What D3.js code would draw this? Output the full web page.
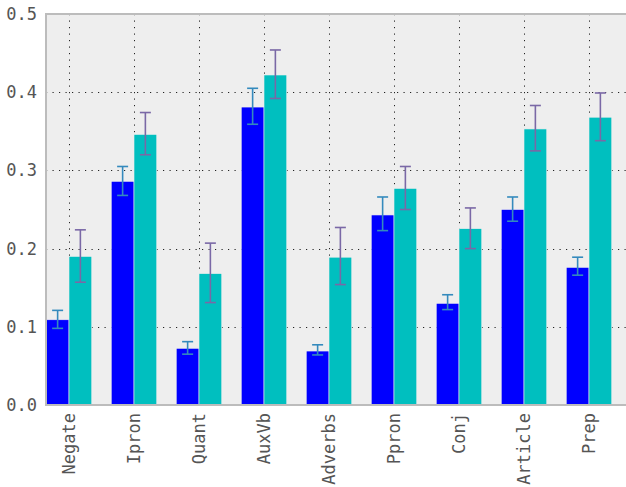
<!DOCTYPE html>
<html>
<head>
<meta charset="utf-8">
<script src="https://cdn.jsdelivr.net/npm/d3@7/dist/d3.min.js"></script>
<style>
  html, body { margin: 0; padding: 0; background: #ffffff; }
  svg { display: block; }
  text { font-family: "DejaVu Sans Mono", monospace; }
</style>
</head>
<body>
<svg id="chart" width="626" height="487"></svg>
<script>
// Word-category frequencies, two groups, with error ranges
const categories = ["Negate", "Ipron", "Quant", "AuxVb", "Adverbs", "Ppron", "Conj", "Article", "Prep"];
const groupA      = [0.109, 0.286, 0.0725, 0.381, 0.069, 0.243, 0.130, 0.250, 0.176];
const groupALow   = [0.098, 0.268, 0.065, 0.359, 0.064, 0.223, 0.122, 0.235, 0.166];
const groupAHigh  = [0.121, 0.305, 0.081, 0.405, 0.077, 0.266, 0.141, 0.266, 0.189];
const groupB      = [0.190, 0.346, 0.168, 0.422, 0.189, 0.277, 0.2255, 0.353, 0.368];
const groupBLow   = [0.157, 0.320, 0.131, 0.392, 0.154, 0.250, 0.200, 0.325, 0.338];
const groupBHigh  = [0.224, 0.374, 0.207, 0.454, 0.227, 0.305, 0.252, 0.383, 0.399];
const yTicks      = [0.0, 0.1, 0.2, 0.3, 0.4, 0.5];

const svg = d3.select("#chart");
const W = 626, H = 487;

const x = d3.scaleLinear().domain([0, categories.length - 1]).range([69, 589]);
const y = d3.scaleLinear().domain([0, 0.5]).range([405, 14]);
const barW = x(0.35) - x(0);

const plotL = x(-23 / 65), plotR = W, plotT = y(0.5), plotB = y(0);

// plot background
svg.append("rect")
  .attr("x", plotL).attr("y", plotT)
  .attr("width", plotR - plotL).attr("height", plotB - plotT)
  .attr("fill", "#eeeeee");

// grid
const grid = svg.append("g")
  .attr("stroke", "#222").attr("stroke-width", 1)
  .attr("stroke-dasharray", "1.2,5.3");
grid.selectAll("line.h").data(yTicks.slice(1, -1)).join("line")
  .attr("class", "h")
  .attr("x1", plotL).attr("x2", plotR)
  .attr("y1", d => Math.round(y(d)) + 0.5).attr("y2", d => Math.round(y(d)) + 0.5);
grid.selectAll("line.v").data(categories).join("line")
  .attr("class", "v")
  .attr("x1", (d, i) => Math.round(x(i)) + 0.5).attr("x2", (d, i) => Math.round(x(i)) + 0.5)
  .attr("y1", plotT).attr("y2", plotB);

// bars
const series = [
  { vals: groupA, lo: groupALow, hi: groupAHigh, color: "#0000ff", err: "#348abd", off: -barW },
  { vals: groupB, lo: groupBLow, hi: groupBHigh, color: "#00bfbf", err: "#7a68a6", off: 0 }
];

series.forEach(s => {
  svg.append("g").selectAll("rect").data(s.vals).join("rect")
    .attr("x", (d, i) => x(i) + s.off)
    .attr("y", d => y(d))
    .attr("width", barW)
    .attr("height", d => y(0) - y(d))
    .attr("fill", s.color)
    .attr("stroke", "#eeeeee").attr("stroke-width", 0.6);
});

// error bars
series.forEach(s => {
  const g = svg.append("g").attr("stroke", s.err).attr("stroke-width", 1.6).attr("fill", "none");
  s.vals.forEach((v, i) => {
    const cx = x(i) + s.off + barW / 2;
    const y1 = y(s.lo[i]), y2 = y(s.hi[i]);
    g.append("line").attr("x1", cx).attr("x2", cx).attr("y1", y1).attr("y2", y2);
    g.append("line").attr("x1", cx - 5.5).attr("x2", cx + 5.5).attr("y1", y1).attr("y2", y1);
    g.append("line").attr("x1", cx - 5.5).attr("x2", cx + 5.5).attr("y1", y2).attr("y2", y2);
  });
});

// frame
const frame = svg.append("g").attr("stroke", "#bcbcbc").attr("stroke-width", 2);
frame.append("line").attr("x1", plotL).attr("x2", plotR).attr("y1", plotT).attr("y2", plotT);
frame.append("line").attr("x1", plotL).attr("x2", plotR).attr("y1", plotB).attr("y2", plotB);
frame.append("line").attr("x1", plotL).attr("x2", plotL).attr("y1", plotT - 1).attr("y2", plotB + 1);

// y axis labels
const yAxis = d3.axisLeft(y).tickValues(yTicks).tickFormat(d3.format(".1f")).tickSize(0).tickPadding(8);
const ya = svg.append("g").attr("transform", `translate(${plotL - 1},0)`).call(yAxis);
ya.select(".domain").remove();
ya.selectAll("text").attr("font-size", 17).attr("fill", "#555555")
  .attr("font-family", "DejaVu Sans Mono");

// x axis labels
const xa = svg.append("g").attr("transform", `translate(0,${plotB})`);
xa.selectAll("text").data(categories).join("text")
  .attr("transform", (d, i) => `translate(${x(i)},8) rotate(-90)`)
  .attr("text-anchor", "end")
  .attr("dy", "0.35em")
  .attr("font-size", 17)
  .attr("fill", "#555555")
  .text(d => d);
</script>
</body>
</html>
